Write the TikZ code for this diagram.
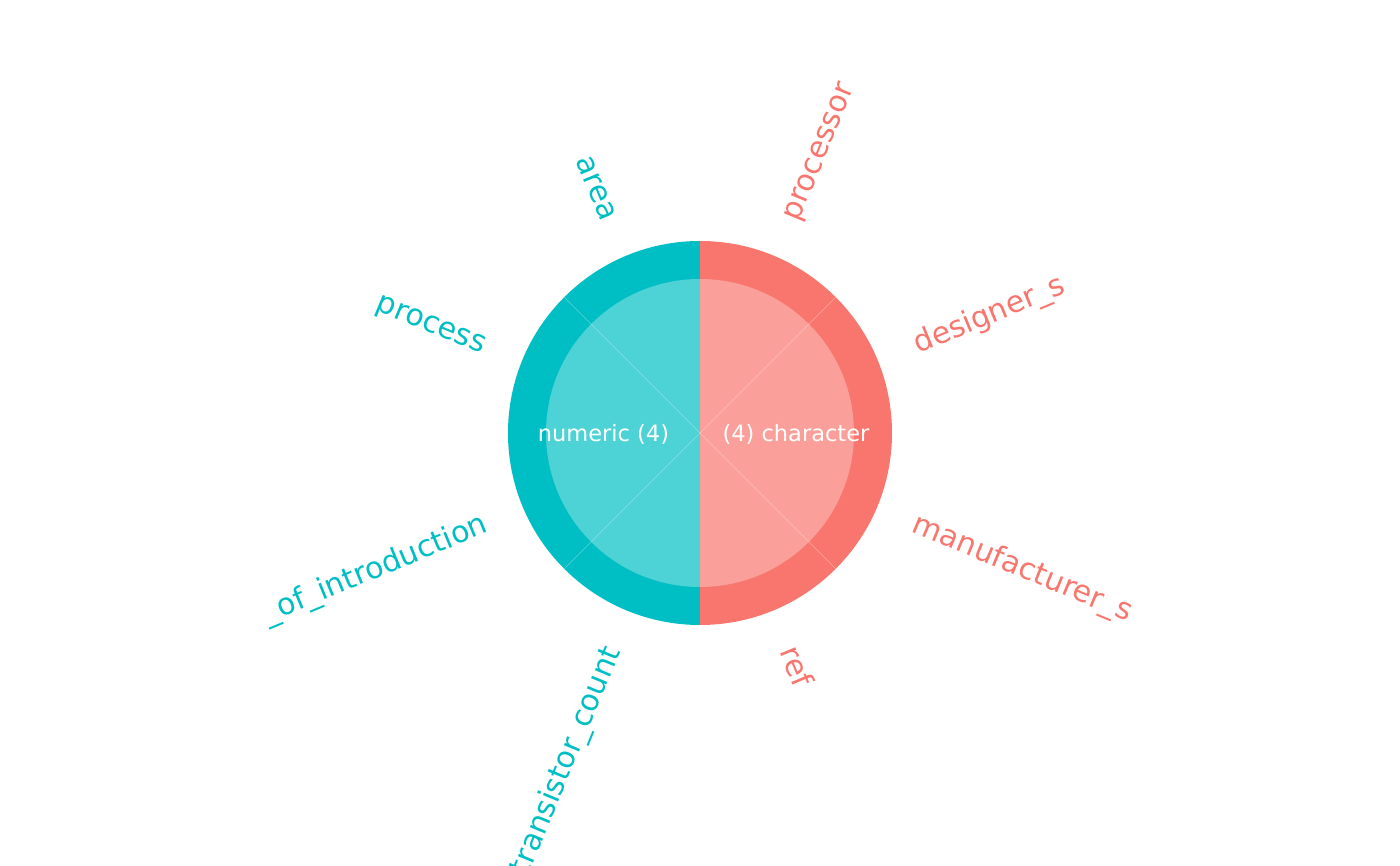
\documentclass[tikz,border=0pt]{standalone}
\usepackage{fontspec}
\setmainfont{DejaVu Sans}
\definecolor{redc}{HTML}{F8766D}
\definecolor{tealc}{HTML}{00BFC4}
\definecolor{redl}{HTML}{FA9F99}
\definecolor{teall}{HTML}{4DD2D6}
\tikzset{
  lbl/.style={inner sep=0pt, text height=21pt, text depth=0pt, font=\fontsize{30}{36}\selectfont},
  lblR/.style={lbl, text=redc, anchor=west},
  lblL/.style={lbl, text=tealc, anchor=east},
  ctr/.style={inner sep=0pt, text=white, font=\fontsize{22.5}{27}\selectfont},
  sep/.style={draw=white, draw opacity=0.35, line width=0.6pt}
}
\begin{document}
\begin{tikzpicture}[x=1pt,y=1pt]
\useasboundingbox (-700,-433) rectangle (700,433);
\clip (-700,-433) rectangle (700,433);
% outer ring
\fill[tealc] (0,0) -- (90:192) arc[start angle=90,end angle=270,radius=192] -- cycle;
\fill[redc] (0,0) -- (-90:192) arc[start angle=-90,end angle=90,radius=192] -- cycle;
% inner disc
\fill[teall] (0,0) -- (90:154) arc[start angle=90,end angle=270,radius=154] -- cycle;
\fill[redl] (0,0) -- (-90:154) arc[start angle=-90,end angle=90,radius=154] -- cycle;
% segment separators
\draw[sep] (45:192) -- (225:192);
\draw[sep] (135:192) -- (315:192);
% centre labels
\node[ctr] (num) at (-96.5,-1) {numeric (4)};
\node[ctr] (chr) at (96,-1) {(4) character};
% variable labels
\node[lblR, rotate=67.5] (processor) at (67.5:232) {processor};
\node[lblR, rotate=22.5] (designer) at (22.5:232) {designer\_s};
\node[lblR, rotate=-22.5] (manuf) at (-22.5:232) {manufacturer\_s};
\node[lblR, rotate=-67.5] (ref) at (-67.5:232) {ref};
\node[lblL, rotate=67.5] (trans) at (247.5:232) {transistor\_count};
\node[lblL, rotate=22.5] (intro) at (202.5:232) {\_of\_introduction};
\node[lblL, rotate=-22.5] (process) at (157.5:232) {process};
\node[lblL, rotate=-67.5] (area) at (112.5:232) {area};
\end{tikzpicture}
\end{document}
